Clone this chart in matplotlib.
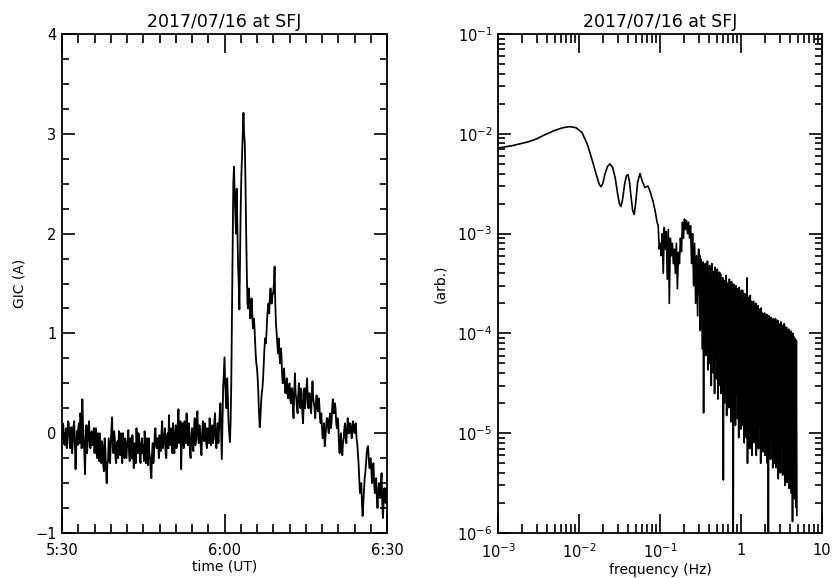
import numpy as np
import matplotlib
matplotlib.use("Agg")
import matplotlib.pyplot as plt
from matplotlib.ticker import FixedLocator, FixedFormatter, MultipleLocator, LogLocator, NullFormatter

# ---------------- data ----------------
title_text = "2017/07/16 at SFJ"

# GIC time series, one value every 15 s starting 5:30 UT (minutes since 5:30)
gic_rows = [
    [-0.05, 0.08, -0.12, 0.05, -0.02, 0.1, -0.15, 0.06, -0.08, 0.12, -0.36, 0.02],
    [0.05, -0.1, 0.15, 0.34, -0.05, -0.41, 0.08, -0.1, 0.12, -0.15, 0.02, -0.08],
    [-0.2, 0.05, -0.25, -0.1, 0.0, -0.3, -0.12, -0.38, -0.15, -0.5, -0.28, -0.18],
    [-0.1, 0.16, -0.2, -0.05, -0.3, -0.08, 0.02, -0.22, -0.12, 0.0, -0.25, -0.1],
    [-0.15, 0.03, -0.28, -0.1, -0.02, -0.35, -0.12, 0.05, -0.2, -0.08, -0.3, -0.05],
    [-0.12, 0.02, -0.3, -0.15, -0.05, -0.25, -0.45, -0.1, -0.2, 0.05, -0.15, -0.08],
    [-0.02, -0.18, 0.12, -0.1, 0.05, -0.25, 0.0, 0.18, -0.12, -0.05, 0.1, -0.2],
    [0.08, -0.1, 0.24, -0.05, -0.36, 0.1, -0.15, 0.05, 0.2, -0.12, -0.02, -0.25],
    [0.05, -0.18, 0.15, -0.05, 0.22, -0.1, 0.0, -0.22, 0.12, -0.08, 0.05, -0.15],
    [0.0, 0.15, -0.12, 0.08, -0.05, 0.2, -0.15, 0.1, 0.05, 0.3, -0.26, 0.45],
    [0.76, 0.35, 0.55, 0.1, -0.09, 0.5, 1.9, 2.67, 2.2, 2.45, 1.7, 1.24],
    [2.3, 2.8, 3.21, 2.9, 2.0, 1.3, 1.45, 1.15, 1.35, 1.05, 1.1, 0.8],
    [0.65, 0.4, 0.06, 0.3, 0.45, 0.7, 0.95, 1.0, 1.25, 1.2, 1.45, 1.3],
    [1.4, 1.67, 1.1, 0.9, 0.95, 0.7, 0.8, 0.5, 0.65, 0.4, 0.55, 0.35],
    [0.5, 0.3, 0.45, 0.15, 0.6, 0.35, 0.2, 0.5, 0.25, 0.4, 0.1, 0.45],
    [0.35, 0.55, 0.25, 0.4, 0.2, 0.52, 0.3, 0.15, 0.38, 0.22, 0.3, 0.1],
    [0.05, 0.0, -0.13, 0.05, 0.15, 0.0, 0.2, 0.1, 0.34, 0.2, 0.25, 0.05],
    [0.1, -0.2, 0.0, -0.22, -0.05, 0.1, -0.1, 0.15, 0.0, 0.08, -0.05, 0.12],
    [0.0, 0.1, -0.1, -0.3, -0.6, -0.5, -0.83, -0.55, -0.4, -0.2, -0.13, -0.35],
    [-0.25, -0.5, -0.3, -0.6, -0.45, -0.75, -0.5, -0.65, -0.4, -0.85, -0.55, -0.7],
    [-0.6],
]
# GIC values read at the in-between instants (7.5 s after each sample above)
gic_mid_rows = [
    [0.1, -0.1, -0.02, -0.15, 0.12, -0.08, 0.05, -0.2, 0.08, -0.1, -0.15, -0.12],
    [0.1, 0.2, -0.15, 0.1, -0.2, -0.05, -0.2, 0.05, -0.08, 0.0, -0.12, 0.05],
    [-0.05, -0.2, 0.0, -0.28, -0.15, -0.08, -0.32, -0.05, -0.35, -0.3, -0.05, -0.3],
    [0.05, -0.15, 0.02, -0.25, -0.12, -0.25, -0.15, 0.0, -0.3, -0.2, -0.05, -0.25],
    [-0.05, -0.2, -0.05, -0.25, -0.2, -0.1, -0.3, -0.15, 0.0, -0.25, -0.1, -0.2],
    [-0.28, -0.1, -0.05, -0.32, -0.2, -0.38, -0.2, -0.3, 0.0, -0.12, -0.05, -0.25],
    [-0.15, 0.02, -0.15, -0.02, -0.2, -0.05, -0.15, -0.08, 0.05, -0.2, -0.15, 0.0],
    [-0.15, 0.1, -0.1, 0.12, -0.05, -0.1, 0.12, -0.1, -0.05, 0.1, -0.2, 0.0],
    [-0.1, 0.05, -0.12, 0.1, -0.05, 0.08, -0.15, 0.0, -0.05, 0.1, -0.1, 0.05],
    [-0.1, 0.0, 0.05, -0.1, 0.12, -0.05, 0.0, -0.1, 0.2, 0.0, 0.1, 0.6],
    [0.5, 0.25, 0.35, 0.0, 0.1, 1.2, 2.5, 2.4, 2.0, 2.1, 1.5, 1.8],
    [2.6, 3.0, 3.0, 2.5, 1.6, 1.25, 1.3, 1.2, 1.2, 1.15, 0.95, 0.7],
    [0.55, 0.2, 0.15, 0.4, 0.55, 0.85, 0.9, 1.15, 1.3, 1.35, 1.3, 1.4],
    [1.5, 1.3, 1.0, 0.8, 0.8, 0.85, 0.6, 0.6, 0.5, 0.5, 0.4, 0.45],
    [0.35, 0.45, 0.25, 0.4, 0.4, 0.25, 0.4, 0.3, 0.45, 0.2, 0.3, 0.25],
    [0.45, 0.3, 0.4, 0.25, 0.4, 0.35, 0.25, 0.3, 0.25, 0.35, 0.15, 0.2],
    [-0.05, 0.1, -0.05, 0.15, 0.05, 0.15, 0.05, 0.25, 0.2, 0.3, 0.1, 0.15],
    [-0.1, -0.05, -0.15, -0.1, 0.05, -0.05, 0.05, 0.0, 0.1, 0.0, 0.1, 0.05],
    [0.08, -0.05, -0.2, -0.45, -0.55, -0.7, -0.7, -0.45, -0.3, -0.15, -0.25, -0.3],
    [-0.4, -0.35, -0.5, -0.5, -0.65, -0.6, -0.6, -0.5, -0.7, -0.7, -0.65, -0.55],
]
gic_values = [v for row in gic_rows for v in row]
gic_mid = [v for row in gic_mid_rows for v in row]
time_labels = ["5:30", "6:00", "6:30"]

# Spectrum: smooth low-frequency part (Hz, arb.)
spec_freq_smooth = [1.0e-3, 1.5e-3, 2.35e-3, 3.0e-3, 3.8e-3, 5.0e-3, 6.3e-3, 7.7e-3, 9.2e-3,
                    1.09e-2, 1.27e-2, 1.45e-2, 1.65e-2, 1.78e-2, 1.87e-2, 1.97e-2, 2.1e-2,
                    2.25e-2, 2.41e-2, 2.6e-2, 2.8e-2, 3.0e-2, 3.15e-2, 3.3e-2, 3.45e-2,
                    3.65e-2, 3.85e-2, 4.03e-2, 4.2e-2, 4.4e-2, 4.6e-2, 4.8e-2, 5.0e-2,
                    5.3e-2, 5.67e-2, 6.0e-2, 6.5e-2, 7.1e-2, 7.6e-2, 8.2e-2, 8.7e-2, 9.2e-2]
spec_pow_smooth = [7.2e-3, 7.6e-3, 8.3e-3, 8.9e-3, 9.8e-3, 1.08e-2, 1.15e-2, 1.18e-2, 1.15e-2,
                   1.03e-2, 7.8e-3, 5.5e-3, 3.8e-3, 3.1e-3, 2.95e-3, 3.2e-3, 4.0e-3,
                   4.7e-3, 5.0e-3, 4.6e-3, 3.6e-3, 2.5e-3, 2.0e-3, 1.87e-3, 2.2e-3,
                   3.1e-3, 3.8e-3, 3.9e-3, 3.3e-3, 2.3e-3, 1.7e-3, 1.55e-3, 2.0e-3,
                   3.3e-3, 4.0e-3, 3.4e-3, 2.9e-3, 3.0e-3, 2.6e-3, 2.1e-3, 1.7e-3, 1.3e-3]

# Spectrum: ragged part 0.095-0.3 Hz (peaks / troughs)
spec_hi_a = [1.2e-3, 8e-4, 1.0e-3, 1.15e-3, 1.05e-3, 1.1e-3, 9e-4, 8e-4, 7e-4, 8e-4,
             6.5e-4, 9e-4, 1.3e-3, 1.4e-3, 1.35e-3, 1.3e-3, 1.2e-3, 1.0e-3, 8e-4, 6e-4]
spec_lo_a = [7e-4, 6e-4, 4e-4, 7e-4, 3.5e-4, 2e-4, 6e-4, 5e-4, 4e-4, 2.8e-4,
             5e-4, 6.6e-4, 9e-4, 1.1e-3, 1.0e-3, 9e-4, 5e-4, 3e-4, 2e-4, 1.5e-4]
# Spectrum: dense part 0.3-4.9 Hz (peaks / troughs)
spec_hi_b = [7e-4, 6e-4, 5.5e-4, 4.2e-4, 5.2e-4, 3.8e-4, 5.0e-4, 4.5e-4, 5.3e-4, 3.9e-4,
             4.8e-4, 3.6e-4, 5.0e-4, 4.2e-4, 3.3e-4, 4.6e-4, 3.9e-4, 4.4e-4, 3.1e-4, 4.1e-4,
             3.9e-4, 3.0e-4, 3.6e-4, 3.4e-4, 2.7e-4, 3.8e-4, 3.2e-4, 2.9e-4, 3.5e-4, 3.0e-4,
             3.3e-4, 2.6e-4, 3.1e-4, 2.4e-4, 3.0e-4, 2.8e-4, 2.2e-4, 2.9e-4, 2.5e-4, 2.7e-4,
             2.7e-4, 2.2e-4, 2.5e-4, 2.0e-4, 3.6e-4, 2.3e-4, 1.9e-4, 2.4e-4, 2.1e-4, 1.8e-4,
             2.1e-4, 1.7e-4, 2.0e-4, 1.6e-4, 1.9e-4, 1.75e-4, 1.5e-4, 1.8e-4, 1.6e-4, 1.55e-4,
             1.6e-4, 1.45e-4, 1.55e-4, 1.3e-4, 1.5e-4, 1.35e-4, 1.45e-4, 1.25e-4, 1.4e-4, 1.3e-4,
             1.4e-4, 1.2e-4, 1.35e-4, 1.25e-4, 1.15e-4, 1.3e-4, 1.2e-4, 1.1e-4, 1.25e-4, 1.15e-4,
             1.15e-4, 1.05e-4, 1.1e-4, 1.0e-4, 1.05e-4, 9.5e-5, 1.0e-4, 9.2e-5, 8.8e-5, 8.5e-5]
spec_lo_b = [2.5e-4, 1.07e-4, 2e-4, 7e-5, 1.6e-5, 9e-5, 6e-5, 1.2e-4, 4.3e-5, 8e-5,
             5e-5, 3e-5, 7e-5, 4e-5, 2.5e-5, 6e-5, 3.5e-5, 2.2e-5, 5e-5, 3e-5,
             2.5e-5, 3.5e-5, 3.4e-6, 2e-5, 3e-5, 1.5e-5, 2.8e-5, 1.8e-5, 3.5e-5, 1.3e-5,
             1.5e-5, 8e-7, 2.2e-5, 1.2e-5, 2.5e-5, 1.4e-5, 9e-6, 2e-5, 1.1e-5, 1.6e-5,
             1.2e-5, 8e-6, 1.5e-5, 9e-6, 5e-6, 1.3e-5, 7e-6, 1.1e-5, 6e-6, 1e-5,
             8e-6, 1.1e-5, 6e-6, 9e-6, 7e-6, 1.2e-5, 5e-6, 8e-6, 6.5e-6, 9e-6,
             6e-6, 8e-6, 5e-6, 8e-7, 7e-6, 5.5e-6, 9e-6, 4.5e-6, 6e-6, 5e-6,
             4.5e-6, 6e-6, 3.5e-6, 5e-6, 4e-6, 7e-6, 3.8e-6, 4.5e-6, 3e-6, 5.5e-6,
             3.2e-6, 4e-6, 2.8e-6, 3.5e-6, 2.5e-6, 1.3e-6, 3e-6, 2.2e-6, 1.8e-6, 1.5e-6]

# ---------------- build series ----------------
def interleave(a, b):
    out = np.empty(len(a) + len(b))
    out[0::2] = a
    out[1::2] = b
    return out

gic_all = np.append(interleave(gic_values[:-1], gic_mid), gic_values[-1])
t_min = np.linspace(0, 60, len(gic_all))  # sampling grid, minutes after 5:30

pa = interleave(spec_hi_a, spec_lo_a)
pb = interleave(spec_hi_b, spec_lo_b)
fa = np.geomspace(0.095, 0.3, len(pa), endpoint=False)
fb = np.geomspace(0.3, 4.9, len(pb))
spec_f = np.concatenate([spec_freq_smooth, fa, fb])
spec_p = np.concatenate([spec_pow_smooth, pa, pb])

# ---------------- figure ----------------
plt.rcParams['font.family'] = ['DejaVu Sans']
fig = plt.figure(figsize=(8.33, 5.78), dpi=100)

W, H = 833.0, 578.0
ax1 = fig.add_axes([62 / W, (H - 533) / H, 325 / W, 499 / H])
ax2 = fig.add_axes([498 / W, (H - 533) / H, 324 / W, 499 / H])

lw_frame = 1.3
for ax in (ax1, ax2):
    for s in ax.spines.values():
        s.set_linewidth(lw_frame)

fs_tick = 10.5

# Left panel
ax1.plot(t_min, gic_all, color='black', lw=1.3)
ax1.set_xlim(0, 60)
ax1.set_ylim(-1, 4)
ax1.xaxis.set_major_locator(FixedLocator([0, 30, 60]))
ax1.xaxis.set_major_formatter(FixedFormatter(time_labels))
ax1.xaxis.set_minor_locator(MultipleLocator(3))
ax1.yaxis.set_major_locator(MultipleLocator(1))
ax1.yaxis.set_minor_locator(MultipleLocator(0.25))
ax1.tick_params(axis='x', which='major', direction='in', top=True, bottom=True,
                length=13.5, width=1.2, labelsize=fs_tick, pad=7)
ax1.tick_params(axis='x', which='minor', direction='in', top=True, bottom=True,
                length=6.5, width=1.2)
ax1.tick_params(axis='y', which='major', direction='in', left=True, right=True,
                length=9.5, width=1.2, labelsize=fs_tick, pad=4)
ax1.tick_params(axis='y', which='minor', direction='in', left=True, right=True,
                length=5, width=1.2)
ax1.set_xlabel("time (UT)", fontsize=10, labelpad=1)
ax1.set_ylabel("GIC (A)", fontsize=10, labelpad=6)
ax1.set_title(title_text, fontsize=12.5, pad=5)

# Right panel
ax2.plot(spec_f, spec_p, color='black', lw=1.2)
ax2.set_xscale('log')
ax2.set_yscale('log')
ax2.set_xlim(1e-3, 10)
ax2.set_ylim(1e-6, 1e-1)
ax2.xaxis.set_major_locator(FixedLocator([1e-3, 1e-2, 1e-1, 1, 10]))
ax2.xaxis.set_major_formatter(FixedFormatter([r'$10^{-3}$', r'$10^{-2}$', r'$10^{-1}$', '1', '10']))
ax2.xaxis.set_minor_locator(LogLocator(base=10, subs=np.arange(2, 10), numticks=20))
ax2.xaxis.set_minor_formatter(NullFormatter())
ax2.yaxis.set_major_locator(FixedLocator([1e-6, 1e-5, 1e-4, 1e-3, 1e-2, 1e-1]))
ax2.yaxis.set_major_formatter(FixedFormatter([r'$10^{-6}$', r'$10^{-5}$', r'$10^{-4}$',
                                              r'$10^{-3}$', r'$10^{-2}$', r'$10^{-1}$']))
ax2.yaxis.set_minor_locator(LogLocator(base=10, subs=np.arange(2, 10), numticks=20))
ax2.yaxis.set_minor_formatter(NullFormatter())
ax2.tick_params(axis='x', which='major', direction='in', top=True, bottom=True,
                length=14, width=1.2, labelsize=fs_tick, pad=7)
ax2.tick_params(axis='x', which='minor', direction='in', top=True, bottom=True,
                length=6.5, width=1.2)
ax2.tick_params(axis='y', which='major', direction='in', left=True, right=True,
                length=9.5, width=1.2, labelsize=fs_tick, pad=4)
ax2.tick_params(axis='y', which='minor', direction='in', left=True, right=True,
                length=5, width=1.2)
ax2.set_xlabel("frequency (Hz)", fontsize=10, labelpad=1)
ax2.set_ylabel("(arb.)", fontsize=10, labelpad=7)
ax2.set_title(title_text, fontsize=12.5, pad=5)

fig.savefig("out.png", dpi=100)
